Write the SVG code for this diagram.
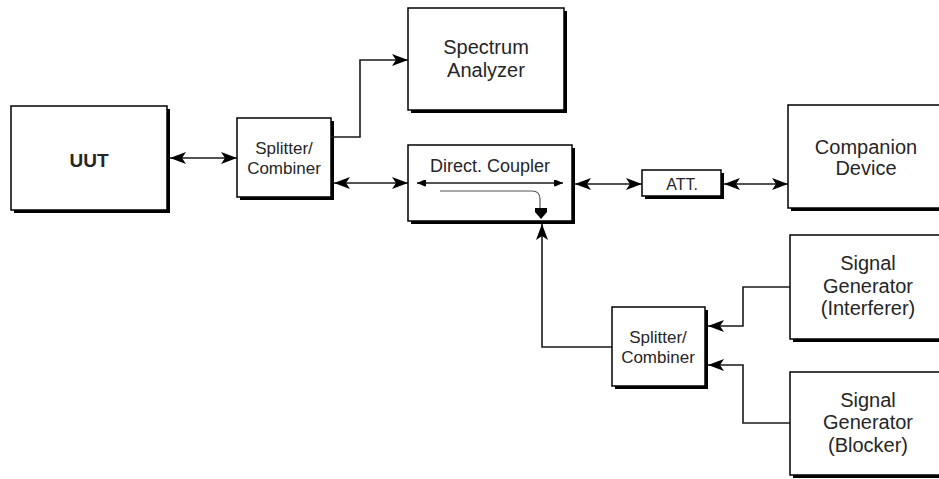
<svg xmlns="http://www.w3.org/2000/svg" width="939" height="479" viewBox="0 0 939 479">
  <style>
    .box { fill: #ffffff; stroke: #000000; stroke-width: 1.5; }
    .shadow { fill: #000000; }
    .txt { font-family: "Liberation Sans", Arial, sans-serif; fill: #262626; text-anchor: middle; }
    .conn { fill: none; stroke: #1a1a1a; stroke-width: 1.6; }
    .inner { fill: none; stroke: #555555; stroke-width: 1.2; }
  </style>
  <defs>
    <marker id="arr" markerUnits="userSpaceOnUse" markerWidth="17" markerHeight="12" refX="16" refY="6" orient="auto-start-reverse" viewBox="0 0 17 12">
      <path d="M0,0 L16,6 L0,12 L4,6 z" fill="#000000"/>
    </marker>
    <marker id="arrs" markerUnits="userSpaceOnUse" markerWidth="10" markerHeight="7" refX="9" refY="3.5" orient="auto-start-reverse" viewBox="0 0 10 7">
      <path d="M0,1 Q0,0 1,0 L9,3.5 L1,7 Q0,7 0,6 z" fill="#000000"/>
    </marker>
  </defs>
  <rect width="939" height="479" fill="#ffffff"/>

  <g id="uut">
    <rect class="shadow" x="14" y="109" width="156" height="104"/>
    <rect class="box" x="11" y="106" width="156" height="104"/>
    <text class="txt" x="89" y="167" font-size="19" font-weight="bold">UUT</text>
  </g>

  <g id="splitter1">
    <rect class="shadow" x="240" y="121" width="94" height="79"/>
    <rect class="box" x="237" y="118" width="94" height="79"/>
    <text class="txt" x="284" y="154" font-size="17">Splitter/</text>
    <text class="txt" x="284" y="174" font-size="17">Combiner</text>
  </g>

  <g id="spectrum">
    <rect class="shadow" x="411" y="11" width="156" height="102"/>
    <rect class="box" x="408" y="8" width="156" height="102"/>
    <text class="txt" x="486" y="54" font-size="20">Spectrum</text>
    <text class="txt" x="486" y="77" font-size="20">Analyzer</text>
  </g>

  <g id="coupler">
    <rect class="shadow" x="411" y="148" width="164" height="76"/>
    <rect class="box" x="408" y="145" width="164" height="76"/>
    <text class="txt" x="490" y="172" font-size="18">Direct. Coupler</text>
    <line class="conn" x1="417" y1="183" x2="563" y2="183" stroke-width="1.4" marker-start="url(#arrs)" marker-end="url(#arrs)"/>
    <path class="inner" d="M440,191 H532 Q540,191 540,199 V209"/>
    <path d="M535,208 H547 V212 L541,219 L535,212 z" fill="#000000"/>
  </g>

  <g id="att">
    <rect class="shadow" x="645" y="173" width="79" height="26"/>
    <rect class="box" x="642" y="170" width="79" height="26"/>
    <text class="txt" x="682" y="190" font-size="16">ATT.</text>
  </g>

  <g id="companion">
    <rect class="shadow" x="791" y="108" width="160" height="103"/>
    <rect class="box" x="788" y="105" width="160" height="103"/>
    <text class="txt" x="866" y="154" font-size="20">Companion</text>
    <text class="txt" x="866" y="175" font-size="20">Device</text>
  </g>

  <g id="sg-interferer">
    <rect class="shadow" x="793" y="238" width="160" height="104"/>
    <rect class="box" x="790" y="235" width="160" height="104"/>
    <text class="txt" x="868" y="270" font-size="20">Signal</text>
    <text class="txt" x="868" y="293" font-size="20">Generator</text>
    <text class="txt" x="868" y="315" font-size="20">(Interferer)</text>
  </g>

  <g id="sg-blocker">
    <rect class="shadow" x="793" y="375" width="160" height="103"/>
    <rect class="box" x="790" y="372" width="160" height="103"/>
    <text class="txt" x="868" y="407" font-size="20">Signal</text>
    <text class="txt" x="868" y="429" font-size="20">Generator</text>
    <text class="txt" x="868" y="452" font-size="20">(Blocker)</text>
  </g>

  <g id="splitter2">
    <rect class="shadow" x="615" y="310" width="93" height="79"/>
    <rect class="box" x="612" y="307" width="93" height="79"/>
    <text class="txt" x="658" y="343" font-size="17">Splitter/</text>
    <text class="txt" x="658" y="363" font-size="17">Combiner</text>
  </g>

  <g id="connectors">
    <line class="conn" x1="170" y1="158" x2="237" y2="158" marker-start="url(#arr)" marker-end="url(#arr)"/>
    <path class="conn" d="M331,137 H360 V60 H408" marker-end="url(#arr)"/>
    <line class="conn" x1="334" y1="183" x2="408" y2="183" marker-start="url(#arr)" marker-end="url(#arr)"/>
    <line class="conn" x1="575" y1="184" x2="642" y2="184" marker-start="url(#arr)" marker-end="url(#arr)"/>
    <line class="conn" x1="724" y1="184" x2="788" y2="184" marker-start="url(#arr)" marker-end="url(#arr)"/>
    <path class="conn" d="M612,347 H542 V224" marker-end="url(#arr)"/>
    <path class="conn" d="M790,287 H743 V326 H708" marker-end="url(#arr)"/>
    <path class="conn" d="M790,423 H743 V365 H708" marker-end="url(#arr)"/>
  </g>
</svg>
